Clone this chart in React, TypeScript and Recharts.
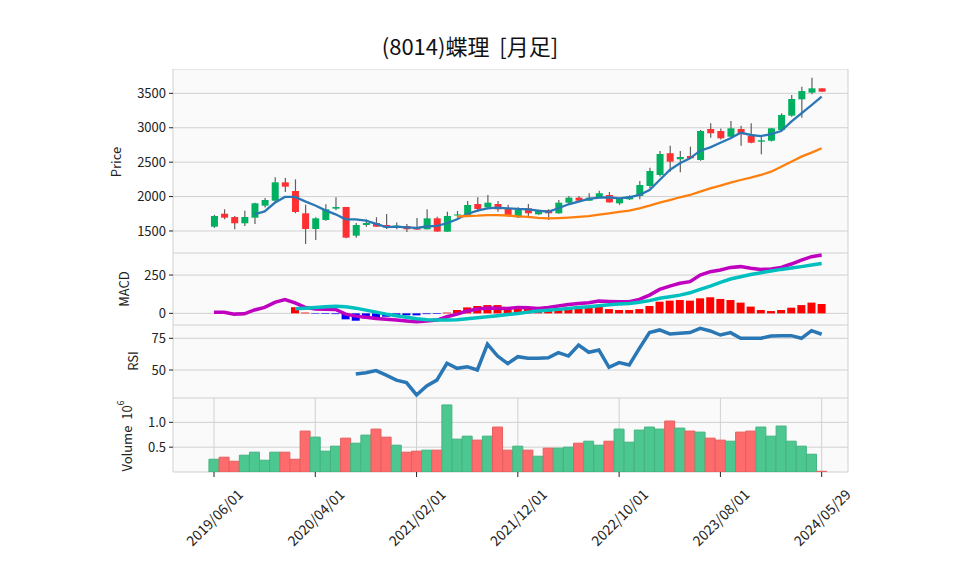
import React from 'react';
import { ComposedChart, Bar, Line, XAxis, YAxis, CartesianGrid, Cell } from 'recharts';

const dates = [
    '2019/06/01', '2019/07/01', '2019/08/01', '2019/09/01', '2019/10/01', '2019/11/01', '2019/12/01',
    '2020/01/01', '2020/02/01', '2020/03/01', '2020/04/01', '2020/05/01', '2020/06/01', '2020/07/01',
    '2020/08/01', '2020/09/01', '2020/10/01', '2020/11/01', '2020/12/01', '2021/01/01', '2021/02/01',
    '2021/03/01', '2021/04/01', '2021/05/01', '2021/06/01', '2021/07/01', '2021/08/01', '2021/09/01',
    '2021/10/01', '2021/11/01', '2021/12/01', '2022/01/01', '2022/02/01', '2022/03/01', '2022/04/01',
    '2022/05/01', '2022/06/01', '2022/07/01', '2022/08/01', '2022/09/01', '2022/10/01', '2022/11/01',
    '2022/12/01', '2023/01/01', '2023/02/01', '2023/03/01', '2023/04/01', '2023/05/01', '2023/06/01',
    '2023/07/01', '2023/08/01', '2023/09/01', '2023/10/01', '2023/11/01', '2023/12/01', '2024/01/01',
    '2024/02/01', '2024/03/01', '2024/04/01', '2024/05/01', '2024/05/29',
];

const opens = [
    1562, 1751, 1703, 1612, 1693, 1868, 1940, 2207, 2081, 1757, 1529, 1660, 1824, 1849, 1432, 1587,
    1616, 1587, 1562, 1572, 1554, 1525, 1684, 1490, 1725, 1732, 1892, 1844, 1892, 1830, 1699, 1830,
    1742, 1805, 1757, 1911, 1984, 1940, 1984, 2023, 1902, 1960, 2008, 2154, 2314, 2630, 2542, 2590,
    2532, 2982, 2953, 2870, 2982, 2880, 2798, 2812, 2967, 3176, 3413, 3510, 3573,
];
const highs = [
    1735, 1815, 1718, 1795, 1910, 1980, 2280, 2270, 2251, 1882, 1700, 1888, 1990, 1849, 1616, 1670,
    1700, 1747, 1625, 1600, 1690, 1815, 1708, 1780, 1790, 1936, 1990, 2023, 1936, 1880, 1844, 1892,
    1810, 1815, 1950, 2008, 2008, 2048, 2086, 2067, 1975, 2020, 2227, 2420, 2663, 2740, 2663, 2725,
    2968, 3065, 2990, 3098, 3030, 3065, 2870, 2995, 3210, 3476, 3597, 3727, 3573,
];
const lows = [
    1545, 1670, 1525, 1573, 1602, 1840, 1921, 2067, 1757, 1311, 1369, 1650, 1800, 1395, 1400, 1560,
    1560, 1530, 1525, 1485, 1515, 1520, 1490, 1490, 1690, 1725, 1780, 1820, 1780, 1708, 1690, 1708,
    1735, 1660, 1750, 1878, 1925, 1935, 1980, 1910, 1880, 1950, 1960, 2125, 2290, 2362, 2353, 2550,
    2520, 2855, 2830, 2860, 2740, 2775, 2614, 2800, 2950, 3161, 3146, 3486, 3524,
];
const closes = [
    1718, 1693, 1612, 1703, 1902, 1950, 2207, 2144, 1776, 1529, 1684, 1815, 1849, 1403, 1587, 1616,
    1562, 1548, 1577, 1525, 1520, 1684, 1492, 1718, 1740, 1878, 1820, 1911, 1815, 1732, 1805, 1757,
    1805, 1757, 1911, 1984, 1940, 1984, 2048, 1916, 1970, 2005, 2168, 2372, 2619, 2507, 2575, 2557,
    2953, 2920, 2847, 2992, 2905, 2783, 2818, 2992, 3186, 3418, 3534, 3573, 3524,
];

// moving averages
const ma5 = [
    null, null, null, null, 1743, 1785, 1910, 1995, 1995, 1930, 1870, 1800, 1742, 1670, 1670, 1650,
    1602, 1557, 1562, 1552, 1545, 1565, 1573, 1612, 1670, 1747, 1795, 1830, 1839, 1830, 1820, 1815,
    1795, 1780, 1830, 1888, 1926, 1965, 1985, 1990, 1975, 1990, 2023, 2096, 2241, 2386, 2483, 2556,
    2667, 2716, 2783, 2847, 2928, 2895, 2880, 2909, 2953, 3088, 3210, 3330, 3451,
];
const ma25 = [
    null, null, null, null, null, null, null, null, null, null, null, null, null, null, null, null,
    null, null, null, null, null, null, null, null, 1710, 1718, 1722, 1730, 1730, 1725, 1712, 1705,
    1690, 1684, 1688, 1695, 1705, 1715, 1738, 1756, 1778, 1797, 1830, 1868, 1911, 1950, 1990, 2023,
    2071, 2120, 2158, 2202, 2241, 2275, 2314, 2362, 2434, 2507, 2580, 2638, 2702,
];

const macd = [
    8, 7, -5, -3, 22, 39, 72, 90, 69, 39, 28, 27, 25, -5, -18, -26, -33, -39, -44, -50, -55, -50,
    -44, -22, -5, 15, 28, 35, 33, 32, 39, 37, 32, 39, 48, 58, 65, 69, 80, 78, 76, 76, 91, 119, 156,
    178, 196, 207, 250, 272, 283, 300, 305, 294, 287, 290, 300, 322, 348, 370, 381,
];
const signal = [
    null, null, null, null, null, null, null, null, 30, 34, 39, 43, 47, 43, 34, 21, 8, -5, -15, -26,
    -35, -41, -43, -43, -41, -35, -28, -22, -15, -8, -1, 8, 15, 21, 26, 32, 39, 43, 50, 56, 61, 65,
    72, 83, 98, 108, 119, 134, 156, 178, 202, 224, 239, 254, 265, 276, 287, 296, 305, 315, 326,
];
const hist = [
    null, null, null, null, null, null, null, null, 40, 5, -3, -4, -5, -39, -48, -33, -28, -22, -17,
    -13, -13, -5, -4, 5, 22, 39, 48, 54, 54, 36, 39, 39, 33, 26, 33, 39, 44, 48, 54, 28, 22, 22, 28,
    48, 76, 83, 87, 83, 98, 105, 94, 87, 70, 44, 22, 15, 22, 37, 54, 70, 61,
];

const rsi = [
    null, null, null, null, null, null, null, null, null, null, null, null, null, null, 46.8, 47.9,
    49.5, 46, 42, 40, 30.3, 37.4, 42, 55.3, 51.3, 52.6, 50, 70.5, 61, 55, 60.5, 59.2, 59.2, 59.7,
    63.7, 61, 69.7, 64, 65.8, 52.1, 55.8, 54, 67, 79.5, 81.6, 78.4, 79, 79.5, 82.9, 80.8, 77.6, 79.5,
    75, 75, 75, 76.8, 77.1, 77.1, 75, 81, 78.2,
];

// volume in millions of shares
const volume = [
    0.257, 0.298, 0.217, 0.338, 0.399, 0.237, 0.399, 0.399, 0.257, 0.824, 0.702, 0.42, 0.52, 0.682,
    0.58, 0.743, 0.864, 0.702, 0.54, 0.399, 0.42, 0.44, 0.44, 1.35, 0.662, 0.722, 0.642, 0.722, 0.905,
    0.44, 0.52, 0.44, 0.318, 0.48, 0.48, 0.5, 0.58, 0.62, 0.54, 0.62, 0.864, 0.6, 0.844, 0.905, 0.864,
    1.026, 0.884, 0.824, 0.803, 0.682, 0.642, 0.62, 0.803, 0.824, 0.905, 0.722, 0.925, 0.62, 0.52,
    0.358, 0.014,
];

const xTicks = [0, 10, 20, 30, 40, 50, 60];
const priceTicks = [1500, 2000, 2500, 3000, 3500];
const macdTicks = [0, 250];
const rsiTicks = [50, 75];
const volTicks = [0.5, 1.0];

const rows = dates.map((date, i) => ({
    i,
    date,
    open: opens[i],
    high: highs[i],
    low: lows[i],
    close: closes[i],
    range: [lows[i], highs[i]],
    up: closes[i] >= opens[i],
    ma5: ma5[i],
    ma25: ma25[i],
    macd: macd[i],
    signal: signal[i],
    hist: hist[i],
    rsi: rsi[i],
    vol: volume[i],
}));

const FONT = '"Noto Sans CJK JP", "DejaVu Sans", sans-serif';
const UP = '#00b060';
const DOWN = '#fe3032';
const W = 958;
const PLOT_L = 173;
const PLOT_R = 848;
const YW = 60;
const margin = { left: PLOT_L - YW, right: W - PLOT_R, top: 0, bottom: 0 };
const X_DOMAIN = [-4.05, 62.6];
const tickStyle = { fontSize: 13, fill: '#222', fontFamily: FONT };

const Candle = (p: any) => {
    const { x, y, width, height, payload } = p;
    if (x == null || y == null || !payload) return null;
    const { open, close, high, low } = payload;
    const k = height / (high - low || 1);
    const yo = y + (high - open) * k;
    const yc = y + (high - close) * k;
    const cx = x + width / 2;
    const top = Math.min(yo, yc);
    const bh = Math.max(Math.abs(yc - yo), 1);
    return (
        <g>
            <line x1={cx} x2={cx} y1={y} y2={y + height} stroke="#606060" strokeWidth={1.2} />
            <rect x={x} y={top} width={width} height={bh} fill={close >= open ? UP : DOWN} />
        </g>
    );
};

const DateTick = (p: any) => {
    const { x, y, payload } = p;
    const cy = y + 38;
    return (
        <text
            x={x}
            y={cy}
            textAnchor="middle"
            dominantBaseline="central"
            transform={`rotate(-45, ${x}, ${cy})`}
            style={{ ...tickStyle, fontSize: 14 }}
            fill="#222"
        >
            {dates[payload.value]}
        </text>
    );
};

const hiddenX = (
    <XAxis
        type="number"
        dataKey="i"
        domain={X_DOMAIN}
        ticks={xTicks}
        allowDataOverflow
        tick={false}
        tickLine={false}
        axisLine={false}
        height={0}
    />
);

const yAxis = (domain: number[], ticks: number[], fmt?: (v: number) => string) => (
    <YAxis
        type="number"
        domain={domain}
        ticks={ticks}
        allowDataOverflow
        interval={0}
        width={YW}
        tickSize={4}
        tickMargin={3}
        axisLine={false}
        tickLine={{ stroke: '#222' }}
        tick={tickStyle}
        tickFormatter={fmt}
    />
);

const grid = <CartesianGrid stroke="#d0d0d0" fill="#fafafa" fillOpacity={1} />;

const box = (top: number): React.CSSProperties => ({ position: 'absolute', left: 0, top });

const labelStyle: React.CSSProperties = { whiteSpace: 'pre' };

export default function App() {
    return (
        <div style={{ position: 'absolute', left: 0, top: 0, width: W, height: 575, background: '#fff', overflow: 'hidden' }}>
            <div style={box(69)}>
                <ComposedChart width={W} height={184} data={rows} margin={margin}>
                    {grid}
                    {hiddenX}
                    {yAxis([1180, 3854], priceTicks)}
                    <Bar dataKey="range" barSize={7} shape={Candle} isAnimationActive={false} />
                    <Line dataKey="ma5" stroke="#2a77b6" strokeWidth={2.3} dot={false} isAnimationActive={false} />
                    <Line dataKey="ma25" stroke="#ff7f0e" strokeWidth={2.3} dot={false} isAnimationActive={false} />
                </ComposedChart>
            </div>
            <div style={box(253)}>
                <ComposedChart width={W} height={72} data={rows} margin={margin}>
                    {grid}
                    {hiddenX}
                    {yAxis([-76, 394], macdTicks)}
                    <Bar dataKey="hist" barSize={8} isAnimationActive={false}>
                        {rows.map((r) => (
                            <Cell key={r.i} fill={(r.hist ?? 0) >= 0 ? '#ff0000' : '#0000ff'} />
                        ))}
                    </Bar>
                    <Line dataKey="macd" stroke="#bf00bf" strokeWidth={3.5} dot={false} isAnimationActive={false} />
                    <Line dataKey="signal" stroke="#00bfbf" strokeWidth={3.5} dot={false} isAnimationActive={false} />
                </ComposedChart>
            </div>
            <div style={box(325)}>
                <ComposedChart width={W} height={73} data={rows} margin={margin}>
                    {grid}
                    {hiddenX}
                    {yAxis([27.9, 85.5], rsiTicks)}
                    <Line dataKey="rsi" stroke="#2a77b6" strokeWidth={3.5} dot={false} isAnimationActive={false} />
                </ComposedChart>
            </div>
            <div style={box(398)}>
                <ComposedChart width={W} height={174} data={rows} margin={margin}>
                    {grid}
                    <XAxis
                        type="number"
                        dataKey="i"
                        domain={X_DOMAIN}
                        ticks={xTicks}
                        allowDataOverflow
                        interval={0}
                        height={100}
                        tickSize={5}
                        tickMargin={2}
                        axisLine={false}
                        tickLine={{ stroke: '#222' }}
                        tick={DateTick}
                    />
                    {yAxis([0, 1.49], volTicks, (v) => v.toFixed(1))}
                    <Bar dataKey="vol" barSize={10} isAnimationActive={false}>
                        {rows.map((r) => (
                            <Cell
                                key={r.i}
                                fill={r.up ? '#4dc790' : '#fd6b6c'}
                                stroke={r.up ? '#45b381' : '#e4605f'}
                                strokeWidth={1}
                            />
                        ))}
                    </Bar>
                </ComposedChart>
            </div>
            <svg width={W} height={575} style={{ position: 'absolute', left: 0, top: 0, pointerEvents: 'none' }}>
                <text x={470} y={45} textAnchor="middle" dominantBaseline="central" fontSize={22} fontFamily={FONT} fill="#111" style={labelStyle}>
                    {'(8014)蝶理  [月足]'}
                </text>
                <text x={115} y={162} transform="rotate(-90, 115, 162)" textAnchor="middle" dominantBaseline="central" fontSize={13} fontFamily={FONT} fill="#222">
                    Price
                </text>
                <text x={123} y={289} transform="rotate(-90, 123, 289)" textAnchor="middle" dominantBaseline="central" fontSize={13} fontFamily={FONT} fill="#222">
                    MACD
                </text>
                <text x={132} y={361} transform="rotate(-90, 132, 361)" textAnchor="middle" dominantBaseline="central" fontSize={13} fontFamily={FONT} fill="#222">
                    RSI
                </text>
                <text x={126} y={436} transform="rotate(-90, 126, 436)" textAnchor="middle" dominantBaseline="central" fontSize={13} fontFamily={FONT} fill="#222" style={labelStyle}>
                    {'Volume  10'}<tspan dy={-6} fontSize={9}>6</tspan>
                </text>
            </svg>
        </div>
    );
}
